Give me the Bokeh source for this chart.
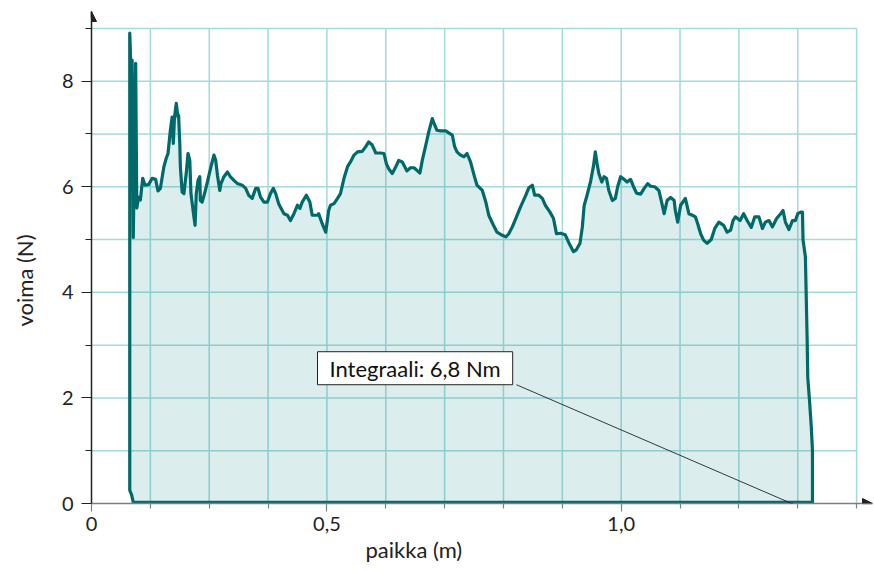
from bokeh.plotting import figure
from bokeh.models import Range1d, FixedTicker, Label, Arrow, NormalHead, Title
from bokeh.embed import file_html
from bokeh.resources import INLINE

# ---- data (position in m, force in N) ----
position_m = [
    1.325, 0.171, 0.168, 0.165,
    0.165, 0.168, 0.169, 0.171, 0.175, 0.177, 0.180, 0.183, 0.187, 0.191,
    0.197, 0.203, 0.209, 0.213, 0.217, 0.223, 0.227, 0.230, 0.234, 0.237,
    0.239, 0.241, 0.244, 0.247, 0.248, 0.250, 0.251, 0.254, 0.257, 0.261,
    0.264, 0.267, 0.269, 0.274, 0.276, 0.278, 0.281, 0.284, 0.285, 0.288,
    0.292, 0.295, 0.299, 0.303, 0.308, 0.311, 0.314, 0.318, 0.320, 0.325,
    0.331, 0.336, 0.342, 0.348, 0.356, 0.362, 0.367, 0.373, 0.379, 0.383,
    0.387, 0.393, 0.399, 0.404, 0.409, 0.413, 0.418, 0.427, 0.433, 0.438,
    0.444, 0.450, 0.454, 0.458, 0.465, 0.471, 0.475, 0.484, 0.486, 0.492,
    0.498, 0.503, 0.506, 0.512, 0.518, 0.523, 0.529, 0.535, 0.540, 0.546,
    0.552, 0.560, 0.566, 0.571, 0.577, 0.583, 0.591, 0.597, 0.601, 0.605,
    0.611, 0.617, 0.622, 0.628, 0.634, 0.636, 0.642, 0.648, 0.653, 0.658,
    0.662, 0.668, 0.673, 0.679, 0.682, 0.687, 0.693, 0.702, 0.707, 0.713,
    0.717, 0.721, 0.727, 0.733, 0.738, 0.744, 0.750, 0.755, 0.764, 0.770,
    0.775, 0.783, 0.789, 0.798, 0.804, 0.809, 0.815, 0.821, 0.829, 0.838,
    0.843, 0.849, 0.853, 0.860, 0.866, 0.871, 0.879, 0.885, 0.890, 0.897,
    0.905, 0.911, 0.919, 0.924, 0.930, 0.934, 0.937, 0.942, 0.948, 0.953,
    0.956, 0.959, 0.962, 0.967, 0.971, 0.975, 0.979, 0.985, 0.990, 0.994,
    0.999, 1.005, 1.010, 1.016, 1.021, 1.026, 1.033, 1.039, 1.045, 1.050,
    1.057, 1.064, 1.068, 1.073, 1.078, 1.084, 1.090, 1.092, 1.096, 1.101,
    1.109, 1.115, 1.121, 1.126, 1.130, 1.135, 1.140, 1.146, 1.153, 1.159,
    1.166, 1.174, 1.180, 1.186, 1.190, 1.194, 1.202, 1.208, 1.214, 1.221,
    1.227, 1.234, 1.240, 1.245, 1.251, 1.257, 1.264, 1.271, 1.275, 1.279,
    1.285, 1.291, 1.296, 1.300, 1.305, 1.308, 1.309, 1.313, 1.316, 1.317,
    1.320, 1.323, 1.325, 1.325, 1.325,
]
force_n = [
    0.02, 0.02, 0.17, 0.25,
    8.91, 7.90, 8.40, 5.04, 8.34, 5.60, 5.80, 5.75, 6.16, 6.03,
    6.04, 6.16, 6.14, 5.92, 5.97, 6.38, 6.54, 6.63, 7.07, 7.32,
    6.82, 7.32, 7.58, 7.32, 7.35, 6.82, 6.38, 5.90, 5.87, 6.26,
    6.63, 6.50, 5.87, 5.43, 5.27, 5.87, 6.12, 6.19, 5.74, 5.71,
    5.87, 6.00, 6.19, 6.38, 6.60, 6.50, 6.22, 5.93, 6.06, 6.19,
    6.28, 6.19, 6.12, 6.06, 6.03, 5.97, 5.84, 5.78, 5.97, 5.97,
    5.81, 5.71, 5.71, 5.87, 5.97, 5.87, 5.68, 5.49, 5.46, 5.36,
    5.49, 5.65, 5.59, 5.71, 5.84, 5.71, 5.46, 5.46, 5.49, 5.30,
    5.14, 5.55, 5.65, 5.68, 5.78, 5.87, 6.16, 6.38, 6.47, 6.60,
    6.66, 6.67, 6.76, 6.85, 6.79, 6.64, 6.64, 6.63, 6.44, 6.34,
    6.25, 6.38, 6.50, 6.47, 6.34, 6.30, 6.36, 6.36, 6.31, 6.26,
    6.50, 6.79, 7.04, 7.29, 7.20, 7.07, 7.06, 7.06, 7.02, 6.98,
    6.76, 6.66, 6.60, 6.57, 6.63, 6.47, 6.22, 6.03, 5.93, 5.71,
    5.46, 5.27, 5.14, 5.08, 5.05, 5.11, 5.24, 5.40, 5.62, 5.84,
    5.98, 6.03, 5.84, 5.84, 5.78, 5.65, 5.52, 5.40, 5.11, 5.12,
    5.09, 4.94, 4.77, 4.81, 4.93, 5.24, 5.64, 5.84, 6.10, 6.40,
    6.66, 6.44, 6.25, 6.09, 6.19, 6.16, 5.93, 5.74, 5.78, 6.00,
    6.19, 6.14, 6.09, 6.14, 6.00, 5.88, 5.86, 5.97, 6.06, 6.01,
    6.00, 5.93, 5.74, 5.49, 5.74, 5.80, 5.74, 5.55, 5.33, 5.65,
    5.78, 5.49, 5.46, 5.43, 5.30, 5.11, 4.99, 4.93, 5.00, 5.21,
    5.33, 5.27, 5.14, 5.18, 5.36, 5.43, 5.36, 5.49, 5.36, 5.23,
    5.43, 5.43, 5.21, 5.33, 5.36, 5.24, 5.40, 5.49, 5.55, 5.33,
    5.19, 5.36, 5.36, 5.49, 5.52, 5.52, 4.99, 4.67, 3.09, 2.39,
    1.95, 1.45, 1.00, 0.06, -0.60,
]

x_ticks = [0.1, 0.2, 0.3, 0.4, 0.5, 0.6, 0.7, 0.8, 0.9, 1.0, 1.1, 1.2, 1.3, 1.4]
x_tick_labels = ["0", "", "", "", "0,5", "", "", "", "", "1,0", "", "", "", ""]
y_ticks = [0, 1, 2, 3, 4, 5, 6, 7, 8, 9]
y_tick_labels = ["0", "", "2", "", "4", "", "6", "", "8", ""]

x_title = "paikka (m)"
y_title = "voima (N)"
note_text = "Integraali: 6,8 Nm"

# ---- style ----
FONT = "Lato"
LINE = "#006a6a"
GRID = "#a4dada"
INK = "#222222"

p = figure(width=874, height=571,
           x_range=Range1d(0.1, 1.427), y_range=Range1d(0, 9.32),
           output_backend="svg", toolbar_location=None,
           min_border_left=91, min_border_right=2,
           min_border_top=11, min_border_bottom=68)
p.outline_line_color = None
p.background_fill_color = "white"
p.border_fill_color = "white"
p.xgrid.visible = False
p.ygrid.visible = False

# grid lines, limited to the tick extents
p.segment(x0=x_ticks[1:], y0=[y_ticks[0]] * (len(x_ticks) - 1),
          x1=x_ticks[1:], y1=[y_ticks[-1]] * (len(x_ticks) - 1),
          line_color=GRID, line_width=1.5)
p.segment(x0=[x_ticks[0]] * (len(y_ticks) - 1), y0=y_ticks[1:],
          x1=[x_ticks[-1]] * (len(y_ticks) - 1), y1=y_ticks[1:],
          line_color=GRID, line_width=1.5)

# axes: labelled ticks as major ticks, the others as minor ticks
x_major = [t for t, s in zip(x_ticks, x_tick_labels) if s]
x_minor = [t for t, s in zip(x_ticks, x_tick_labels) if not s]
y_major = [t for t, s in zip(y_ticks, y_tick_labels) if s]
y_minor = [t for t, s in zip(y_ticks, y_tick_labels) if not s]
p.xaxis.ticker = FixedTicker(ticks=x_major, minor_ticks=x_minor)
p.xaxis.major_label_overrides = {t: s for t, s in zip(x_ticks, x_tick_labels) if s}
p.yaxis.ticker = FixedTicker(ticks=y_major, minor_ticks=y_minor)
p.yaxis.major_label_overrides = {t: s for t, s in zip(y_ticks, y_tick_labels) if s}
for ax, col in ((p.xaxis, "#808080"), (p.yaxis, INK)):
    ax.axis_line_color = col
    ax.axis_line_width = 1.5
    ax.major_tick_line_color = col
    ax.major_tick_line_width = 1.2
    ax.minor_tick_line_color = col
    ax.minor_tick_line_width = 1.2
    ax.major_tick_in = 0
    ax.minor_tick_in = 0
    ax.major_label_text_font = FONT
    ax.major_label_text_font_size = "20px"
    ax.major_label_text_color = INK
p.xaxis.major_tick_out = 8
p.xaxis.minor_tick_out = 5
p.yaxis.major_tick_out = 10
p.yaxis.minor_tick_out = 6
p.xaxis.major_label_standoff = 5
p.yaxis.major_label_standoff = 8
# blank spacer label: leaves a gap between the tick labels and the title
p.yaxis.axis_label = " "
p.yaxis.axis_label_text_font_size = "2px"
p.yaxis.axis_label_standoff = 13

# axis titles (as side titles so they can be placed like the original)
p.add_layout(Title(text=x_title, align="left", offset=274, standoff=0,
                   text_font=FONT, text_font_size="22px",
                   text_font_style="normal", text_color=INK), "below")
p.add_layout(Title(text=y_title, align="left", offset=177, standoff=6,
                   text_font=FONT, text_font_size="22px",
                   text_font_style="normal", text_color=INK), "left")

# filled area and curve
p.patch(position_m[:-1], force_n[:-1], fill_color="#008080", fill_alpha=0.14,
        line_color=None)
p.line(position_m, force_n, line_color=LINE, line_width=3.2, line_join="round")

# axis arrow heads
p.add_layout(Arrow(x_start=0.1, y_start=9.2, x_end=0.1, y_end=9.32,
                   end=NormalHead(size=10, fill_color=INK, line_color=INK, line_width=1),
                   line_color=INK, line_width=1.5))
p.add_layout(Arrow(x_start=1.41, y_start=0, x_end=1.427, y_end=0,
                   end=NormalHead(size=10, fill_color=INK, line_color=INK, line_width=1),
                   line_color="#808080", line_width=1.5))

# annotation box with leader line
p.add_layout(Arrow(x_start=0.822, y_start=2.25, x_end=1.325, y_end=-0.17,
                   start=None, end=None, line_color=INK, line_width=0.9))
p.add_layout(Label(x=0.484, y=2.25, text=note_text, anchor="bottom_left",
                   padding=dict(left=12, right=12, top=3, bottom=3),
                   text_font=FONT, text_font_size="22px", text_color="#111111",
                   background_fill_color="white", border_line_color=INK,
                   border_line_width=1))

open("out.html", "w").write(file_html(p, INLINE))
